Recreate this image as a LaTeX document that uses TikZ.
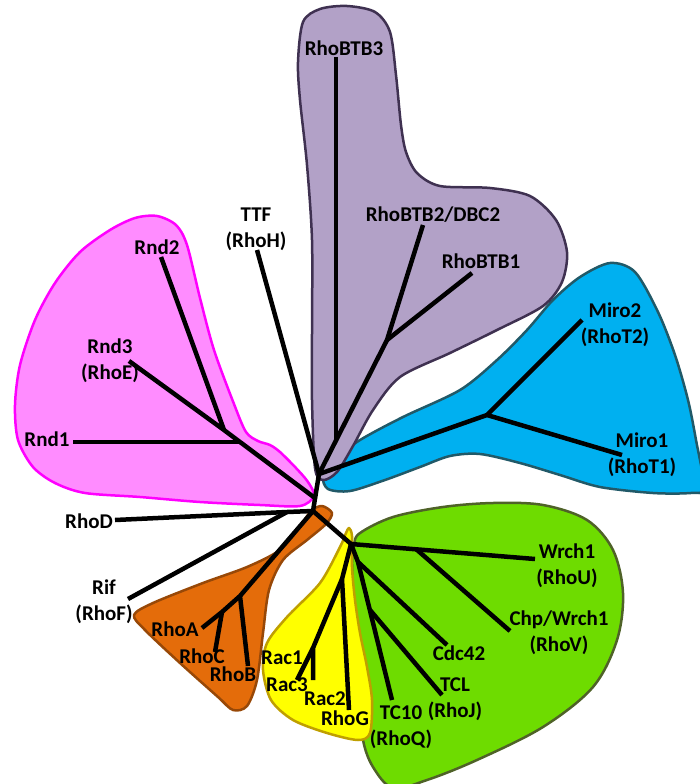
\documentclass[tikz,border=0pt]{standalone}
\usepackage{fontspec}
\setmainfont{Carlito}
\usetikzlibrary{calc}
\definecolor{rndfill}{HTML}{FF8CFF}
\definecolor{rndline}{HTML}{FF00FF}
\definecolor{btbfill}{HTML}{B2A1C7}
\definecolor{btbline}{HTML}{3F3151}
\definecolor{mirofill}{HTML}{00B0F0}
\definecolor{miroline}{HTML}{215968}
\definecolor{rhofill}{HTML}{E46C0A}
\definecolor{rholine}{HTML}{984807}
\definecolor{racfill}{HTML}{FFFF00}
\definecolor{racline}{HTML}{BF9F00}
\definecolor{cdcfill}{HTML}{6EDC00}
\definecolor{cdcline}{HTML}{4F6228}
\begin{document}
\begin{tikzpicture}[x=1pt,y=-1pt]
    \tikzstyle{branch}=[line width=4.5pt,line join=round]
    \tikzstyle{blob}=[line width=2.5pt,line join=round]
    \tikzstyle{lbl}=[font=\fontsize{21}{26}\selectfont\bfseries,inner sep=0pt,align=center]
    \useasboundingbox (0,0) rectangle (699,784);

    \draw[blob,fill=cdcfill,draw=cdcline] plot[smooth cycle,tension=0.55] coordinates {
      (360,533) (393,517) (443,507) (493,503) (543,505) (587,520) (613,550) (623,593)
      (617,640) (593,687) (543,727) (477,760) (427,780) (393,788) (373,767) (363,740)
      (360,700) (355,633) (352,567) (354,545)};
    \draw[blob,fill=racfill,draw=racline] plot[smooth cycle,tension=0.5] coordinates {
      (349,528) (352,536) (352,567) (355,600) (360,633) (367,667) (372,700) (370,733)
      (358,740) (327,733) (293,720) (271,700) (263,670) (267,643) (287,617) (320,583)
      (340,547) (346,533)};
    \draw[blob,fill=rhofill,draw=rholine] plot[smooth cycle,tension=0.5] coordinates {
      (332,513) (326,524) (307,540) (283,560) (269,590) (263,633) (257,680) (247,706)
      (233,710) (218,697) (180,663) (145,630) (134,615) (153,603) (203,583) (247,567)
      (280,550) (299,528) (311,511) (322,506)};
    \draw[blob,fill=mirofill,draw=miroline] plot[smooth cycle,tension=0.5] coordinates {
      (610,263) (635,272) (658,312) (675,355) (688,400) (696,440) (704,488) (690,493)
      (653,493) (600,487) (560,475) (520,463) (480,454) (450,456) (420,467) (385,480)
      (350,491) (328,489) (323,476) (335,459) (360,440) (403,417) (460,390) (497,360)
      (527,330) (553,300) (580,277)};
    \draw[blob,fill=btbfill,draw=btbline] plot[smooth cycle,tension=0.5] coordinates {
      (303,22) (320,9) (347,6) (375,12) (390,32) (396,75) (401,125) (406,152) (417,173)
      (440,186) (490,188) (530,196) (556,220) (567,252) (562,282) (543,306) (497,330)
      (450,353) (400,377) (373,410) (353,446) (337,472) (323,480) (315,468) (312,400)
      (312,330) (312,240) (307,165) (300,100) (298,62)};
    \draw[blob,fill=rndfill,draw=rndline] plot[smooth cycle,tension=0.5] coordinates {
      (314,496) (308,482) (296,468) (280,452) (270,445) (258,441) (246,432) (234,404)
      (214,350) (200,298) (187,245) (176,225) (157,216) (135,218) (110,230) (80,252)
      (55,283) (35,320) (20,365) (15,405) (18,440) (33,467) (55,483) (85,493) (140,497)
      (200,502) (260,505) (300,506)};

    \coordinate (root) at (313,511);
    \coordinate (n_up) at (319,474);
    \coordinate (t_btb3) at (336,57);
    \coordinate (j_btb3) at (336,440);
    \coordinate (t_btb2) at (423,225);
    \coordinate (j_btb1) at (387,340);
    \coordinate (t_btb1) at (472,273);
    \coordinate (j_miro) at (487,415);
    \coordinate (t_miro2) at (582,320);
    \coordinate (t_miro1) at (622,455);
    \coordinate (t_ttf) at (257,250);
    \coordinate (t_rnd2) at (161,257);
    \coordinate (t_rnd3) at (129,361);
    \coordinate (j_rnd2) at (224,430);
    \coordinate (j_rnd1) at (240,442);
    \coordinate (t_rnd1) at (73,442);
    \coordinate (j_rnd0) at (315,498);
    \coordinate (t_rhod) at (115,520);
    \coordinate (j_rif) at (287,512);
    \coordinate (t_rif) at (128,599);
    \coordinate (j_rhob) at (240,596);
    \coordinate (j_rhoc) at (222,612);
    \coordinate (t_rhoa) at (202,628);
    \coordinate (t_rhob) at (248,666);
    \coordinate (t_rhoc) at (215,652);
    \coordinate (j_green) at (351,544);
    \coordinate (t_wrch1) at (535,559);
    \coordinate (j_chp) at (416,549);
    \coordinate (t_chp) at (510,631);
    \coordinate (j_yel) at (342,579);
    \coordinate (t_rhog) at (349,710);
    \coordinate (j_rac) at (313,648);
    \coordinate (t_rac1) at (313,680);
    \coordinate (t_rac3) at (297,680);
    \coordinate (j_cdc) at (358,562);
    \coordinate (t_cdc42) at (447,645);
    \coordinate (t_tc10) at (392,700);
    \coordinate (j_tcl) at (370,610);
    \coordinate (t_tcl) at (442,695);

    \draw[branch] (t_btb2) -- (j_btb1) -- (n_up) -- (root);
    \draw[branch] (t_btb3) -- (j_btb3);
    \draw[branch] (j_btb1) -- (t_btb1);
    \draw[branch] (n_up) -- (j_miro) -- (t_miro2);
    \draw[branch] (j_miro) -- (t_miro1);
    \draw[branch] (t_ttf) -- (n_up);
    \draw[branch] (t_rnd3) -- (j_rnd2) -- (j_rnd1) -- (j_rnd0);
    \draw[branch] (t_rnd2) -- (j_rnd2);
    \draw[branch] (t_rnd1) -- (j_rnd1);
    \draw[branch] (t_rhod) -- (j_rif) -- (root);
    \draw[branch] (t_rif) -- (j_rif);
    \draw[branch] (root) -- (j_rhob) -- (j_rhoc) -- (t_rhoa);
    \draw[branch] (j_rhob) -- (t_rhob);
    \draw[branch] (j_rhoc) -- (t_rhoc);
    \draw[branch] (root) -- (j_green) -- (t_wrch1);
    \draw[branch] (j_chp) -- (t_chp);
    \draw[branch] (j_green) -- (j_yel) -- (t_rhog);
    \draw[branch] (j_yel) -- (j_rac) -- (t_rac1);
    \draw[branch] (j_rac) -- (t_rac3);
    \draw[branch] (j_green) -- (j_cdc) -- (t_tc10);
    \draw[branch] (j_cdc) -- (t_cdc42);
    \draw[branch] (j_tcl) -- (t_tcl);

    \node[lbl] (l_btb3) at (344,48) {RhoBTB3};
    \node[lbl] (l_btb2) at (433,215) {RhoBTB2/DBC2};
    \node[lbl] (l_btb1) at (481,261) {RhoBTB1};
    \node[lbl] (l_ttf) at (256,229) {TTF\\(RhoH)};
    \node[lbl] (l_rnd2) at (157,247) {Rnd2};
    \node[lbl] (l_rnd3) at (110,361) {Rnd3\\(RhoE)};
    \node[lbl] (l_rnd1) at (47,439) {Rnd1};
    \node[lbl] (l_miro2) at (615,325) {Miro2\\(RhoT2)};
    \node[lbl] (l_miro1) at (642,455) {Miro1\\(RhoT1)};
    \node[lbl] (l_rhod) at (89,521) {RhoD};
    \node[lbl] (l_rif) at (104,602) {Rif\\(RhoF)};
    \node[lbl] (l_rhoa) at (175,629) {RhoA};
    \node[lbl] (l_rhoc) at (202,656) {RhoC};
    \node[lbl] (l_rhob) at (233,674) {RhoB};
    \node[lbl] (l_rac1) at (282,658) {Rac1};
    \node[lbl] (l_rac3) at (287,685) {Rac3};
    \node[lbl] (l_rac2) at (325,699) {Rac2};
    \node[lbl] (l_rhog) at (345,718) {RhoG};
    \node[lbl] (l_tc10) at (401,727) {TC10\\(RhoQ)};
    \node[lbl] (l_tcl) at (455,699) {TCL\\(RhoJ)};
    \node[lbl] (l_cdc42) at (459,653) {Cdc42};
    \node[lbl] (l_chp) at (559,633) {Chp/Wrch1\\(RhoV)};
    \node[lbl] (l_wrch1) at (567,566) {Wrch1\\(RhoU)};
\end{tikzpicture}
\end{document}
